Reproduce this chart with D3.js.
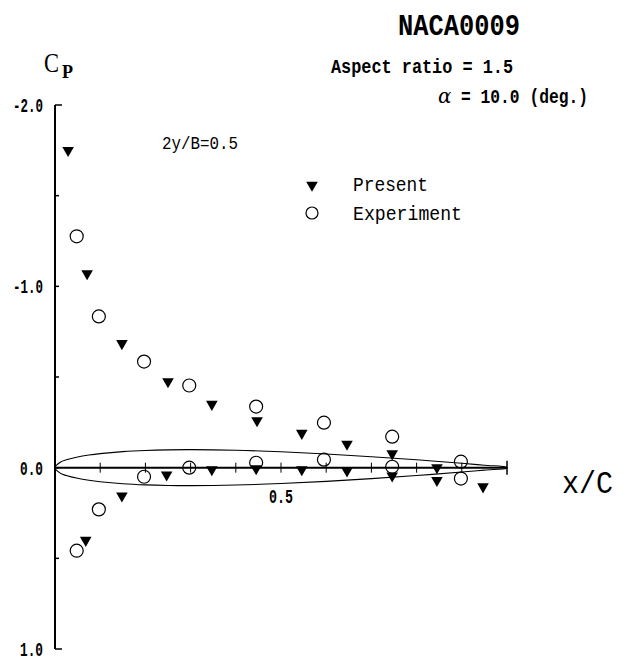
<!DOCTYPE html>
<html>
<head>
<meta charset="utf-8">
<script src="https://cdn.jsdelivr.net/npm/d3@7"></script>
<style>
  body { margin: 0; background: #fff; }
  text { fill: #000; }
</style>
</head>
<body>
<div id="chart"></div>
<script>
// Cp distribution, NACA0009, AR 1.5, alpha 10 deg, 2y/B = 0.5

// Present (calc) - upper and lower surface
const presUpX = [0.029, 0.071, 0.148, 0.25, 0.347, 0.447, 0.546, 0.646, 0.746, 0.845]
const presUpCp = [-1.75, -1.07, -0.685, -0.475, -0.35, -0.26, -0.19, -0.13, -0.077, 0.0]
const presLoX = [0.068, 0.148, 0.247, 0.347, 0.445, 0.546, 0.646, 0.746, 0.845, 0.947]
const presLoCp = [0.40, 0.155, 0.04, 0.01, 0.005, 0.01, 0.017, 0.045, 0.07, 0.105]

// Experiment
const expX = [0.048, 0.097, 0.197, 0.297, 0.445, 0.595, 0.746, 0.898]
const expUpCp = [-1.276, -0.834, -0.585, -0.453, -0.337, -0.248, -0.171, -0.033]
const expLoCp = [0.458, 0.23, 0.05, 0.0, -0.027, -0.044, -0.005, 0.06]

// NACA0009 ordinates (% chord)
const foilX = [0, 1.25, 2.5, 5, 7.5, 10, 15, 20, 25, 30, 40, 50, 60, 70, 80, 90, 95, 100]
const foilT = [0, 1.420, 1.961, 2.666, 3.150, 3.512, 4.009, 4.303, 4.456, 4.501, 4.352, 3.971, 3.423, 2.748, 1.967, 1.086, 0.605, 0.095]

const yTicks = [-2.0, -1.0, 0.0, 1.0]
const yMinor = [-1.5, -0.5, 0.5]
const xTicks = [0.1, 0.2, 0.3, 0.4, 0.5, 0.6, 0.7, 0.8, 0.9]

const w = 628
const h = 662
const ff = "'Liberation Mono', 'DejaVu Sans Mono', monospace"

const svg = d3.select('#chart')
  .append('svg')
  .attr('width', w)
  .attr('height', h)

const x = d3.scaleLinear().domain([0, 1]).range([55, 507])
const y = d3.scaleLinear().domain([-2, 1]).range([105, 649])
const t = d3.scaleLinear().domain([0, 4.5]).range([0, 18])  // airfoil half thickness

// airfoil outline
const foilPts = foilX.map((d, i) => [x(d / 100), y(0) - t(foilT[i])])
  .concat(foilX.map((d, i) => [x(d / 100), y(0) + t(foilT[i])]).reverse())
svg.append('path')
  .attr('d', d3.line().curve(d3.curveCatmullRomClosed)(foilPts.slice(0, -1)))
  .attr('fill', 'none')
  .attr('stroke', '#000')
  .attr('stroke-width', 1.1)

// y axis
svg.append('line')
  .attr('x1', x(0)).attr('x2', x(0))
  .attr('y1', y(-2)).attr('y2', y(1))
  .attr('stroke', '#000').attr('stroke-width', 2)

svg.selectAll('.ytick')
  .data(yTicks.concat(yMinor))
  .join('line')
  .attr('class', 'ytick')
  .attr('x1', x(0)).attr('x2', d => x(0) + (d === -2 || d === 1 ? 7 : 4))
  .attr('y1', d => y(d)).attr('y2', d => y(d))
  .attr('stroke', '#000').attr('stroke-width', 1.5)

svg.selectAll('.ylab')
  .data(yTicks)
  .join('text')
  .attr('class', 'ylab')
  .attr('x', 43)
  .attr('y', d => y(d) + 7)
  .attr('text-anchor', 'end')
  .attr('font-family', ff)
  .attr('font-weight', 'bold')
  .attr('font-size', 20)
  .attr('textLength', d => d < 0 ? 30 : 23)
  .attr('lengthAdjust', 'spacingAndGlyphs')
  .text(d => d3.format('.1f')(d).replace('−', '-'))

// x axis (on Cp = 0)
svg.append('line')
  .attr('x1', x(0)).attr('x2', x(1))
  .attr('y1', y(0)).attr('y2', y(0))
  .attr('stroke', '#000').attr('stroke-width', 2)

svg.selectAll('.xtick')
  .data(xTicks)
  .join('line')
  .attr('class', 'xtick')
  .attr('x1', d => x(d)).attr('x2', d => x(d))
  .attr('y1', y(0) - 5).attr('y2', y(0) + 5)
  .attr('stroke', '#000').attr('stroke-width', 1)

svg.append('line')
  .attr('x1', x(1)).attr('x2', x(1))
  .attr('y1', y(0) - 7).attr('y2', y(0) + 7)
  .attr('stroke', '#000').attr('stroke-width', 1.5)

svg.append('text')
  .attr('x', x(0.5))
  .attr('y', 503)
  .attr('text-anchor', 'middle')
  .attr('font-family', ff)
  .attr('font-weight', 'bold')
  .attr('font-size', 20)
  .attr('textLength', 24)
  .attr('lengthAdjust', 'spacingAndGlyphs')
  .text('0.5')

svg.append('text')
  .attr('x', 562).attr('y', 493)
  .attr('font-family', ff)
  .attr('font-size', 32)
  .attr('textLength', 51)
  .attr('lengthAdjust', 'spacingAndGlyphs')
  .text('x/C')

// Cp label
svg.append('text')
  .attr('x', 44).attr('y', 72)
  .attr('font-family', "'Liberation Serif', serif")
  .attr('font-size', 28)
  .attr('textLength', 15)
  .attr('lengthAdjust', 'spacingAndGlyphs')
  .text('C')
svg.append('text')
  .attr('x', 62).attr('y', 78)
  .attr('font-family', "'Liberation Serif', serif")
  .attr('font-weight', 'bold')
  .attr('font-size', 18)
  .text('P')

// titles
const txt = (s, xx, yy, size, len, weight) => svg.append('text')
  .attr('x', xx).attr('y', yy)
  .attr('font-family', ff)
  .attr('font-size', size)
  .attr('font-weight', weight || 'normal')
  .attr('textLength', len)
  .attr('lengthAdjust', 'spacingAndGlyphs')
  .text(s)

txt('NACA0009', 398, 35, 30, 122, 'bold')
txt('Aspect ratio = 1.5', 331, 73, 20, 182, 'bold')
txt('= 10.0 (deg.)', 461, 103, 20, 127, 'bold')
svg.append('text')
  .attr('x', 438).attr('y', 103)
  .attr('font-family', "'DejaVu Serif', serif")
  .attr('font-style', 'italic')
  .attr('font-size', 20)
  .text('α')
txt('2y/B=0.5', 162, 149, 18, 76)

// legend
txt('Present', 353, 191, 21, 75)
txt('Experiment', 353, 220, 21, 109)

const tri = d3.symbol().type(d3.symbolTriangle).size(58)

svg.append('path')
  .attr('d', tri())
  .attr('transform', 'translate(312,185) rotate(180)')
  .attr('fill', '#000')
svg.append('circle')
  .attr('cx', 312).attr('cy', 213).attr('r', 6)
  .attr('fill', '#fff').attr('stroke', '#000').attr('stroke-width', 1.2)

// experiment markers
const expPts = expX.map((d, i) => [d, expUpCp[i]]).concat(expX.map((d, i) => [d, expLoCp[i]]))
svg.selectAll('.exp')
  .data(expPts)
  .join('circle')
  .attr('class', 'exp')
  .attr('cx', d => x(d[0]))
  .attr('cy', d => y(d[1]))
  .attr('r', 6.5)
  .attr('fill', 'none')
  .attr('stroke', '#000')
  .attr('stroke-width', 1.2)

// present markers
const presPts = presUpX.map((d, i) => [d, presUpCp[i]]).concat(presLoX.map((d, i) => [d, presLoCp[i]]))
svg.selectAll('.pres')
  .data(presPts)
  .join('path')
  .attr('class', 'pres')
  .attr('d', tri())
  .attr('transform', d => `translate(${x(d[0])},${y(d[1])}) rotate(180)`)
  .attr('fill', '#000')
</script>
</body>
</html>
